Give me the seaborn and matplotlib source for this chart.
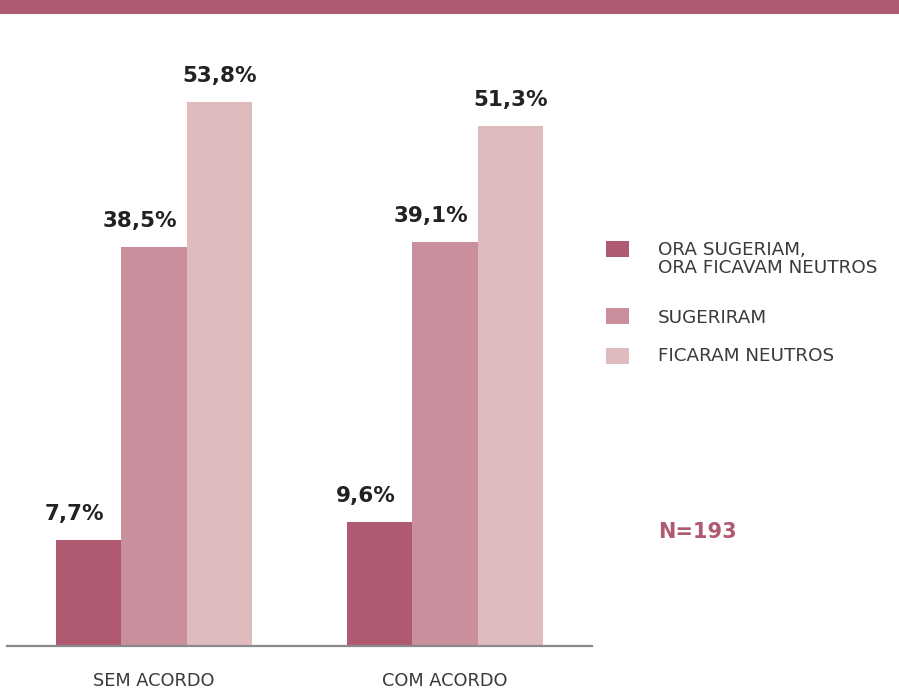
import matplotlib
matplotlib.use("Agg")
import matplotlib.pyplot as plt
from matplotlib.patches import Rectangle
import seaborn as sns
import pandas as pd

categories = ["SEM ACORDO", "COM ACORDO"]
groups = ["ORA SUGERIAM,\nORA FICAVAM NEUTROS", "SUGERIRAM", "FICARAM NEUTROS"]
ora = [7.7, 9.6]
sugeriram = [38.5, 39.1]
neutros = [53.8, 51.3]
n_label = "N=193"

colors = ["#B05A72", "#C98F9D", "#E0BBBD"]

rows = []
for g, vals in zip(groups, [ora, sugeriram, neutros]):
    for c, v in zip(categories, vals):
        rows.append({"acordo": c, "grupo": g, "valor": v})
df = pd.DataFrame(rows)

sns.set_style("white")
plt.rcParams["font.family"] = ["DejaVu Sans"]

W, H = 899, 689
fig = plt.figure(figsize=(W / 100, H / 100), dpi=100)
ax = fig.add_axes([7 / W, 43 / H, 585 / W, 632 / H])

sns.barplot(data=df, x="acordo", y="valor", hue="grupo", hue_order=groups,
            order=categories, palette=colors, width=0.674, saturation=1,
            legend=False, ax=ax, errorbar=None)

base = -3.45
ax.set_xlim(-0.505, 1.505)
ax.set_ylim(base, 63.07)

for container in ax.containers:
    for bar in container:
        h = bar.get_height()
        bar.set_y(base)
        bar.set_height(h - base)
        bar.set_linewidth(0)

series = [ora, sugeriram, neutros]
dxs = [-10, -10, 0]
for i, container in enumerate(ax.containers):
    for bar, v in zip(container, series[i]):
        ax.annotate(f"{v:.1f}%".replace(".", ","),
                    (bar.get_x() + bar.get_width() / 2, bar.get_y() + bar.get_height()),
                    xytext=(dxs[i], 14.4), textcoords="offset points",
                    ha="center", va="baseline", fontsize=15.5, fontweight="bold",
                    color="#222222")

for s in ["top", "left", "right"]:
    ax.spines[s].set_visible(False)
ax.spines["bottom"].set_color("#8a8a8a")
ax.spines["bottom"].set_linewidth(1.6)
ax.set_yticks([])
ax.set_xlabel("")
ax.set_ylabel("")
ax.tick_params(axis="x", length=0, pad=18.5, labelsize=12.8, labelcolor="#3a3a3a")

# top band
fig.add_artist(Rectangle((0, 1 - 14 / H), 1, 14 / H, transform=fig.transFigure,
                         facecolor="#B05A72", edgecolor="none"))

# legend (manual)
sq_centers = [249, 316, 356]
text_centers = [259, 318, 356]
for g, c, yc, yt in zip(groups, colors, sq_centers, text_centers):
    fig.add_artist(Rectangle((606 / W, 1 - (yc + 8) / H), 23 / W, 16 / H,
                             transform=fig.transFigure, facecolor=c, edgecolor="none"))
    fig.text(658 / W, 1 - yt / H, g, ha="left", va="center", fontsize=13.2,
             color="#3a3a3a", linespacing=1.0)

fig.text(658 / W, 1 - 532 / H, n_label, ha="left", va="center", fontsize=15,
         fontweight="bold", color="#B05A72")

fig.savefig("out.png", dpi=100)
